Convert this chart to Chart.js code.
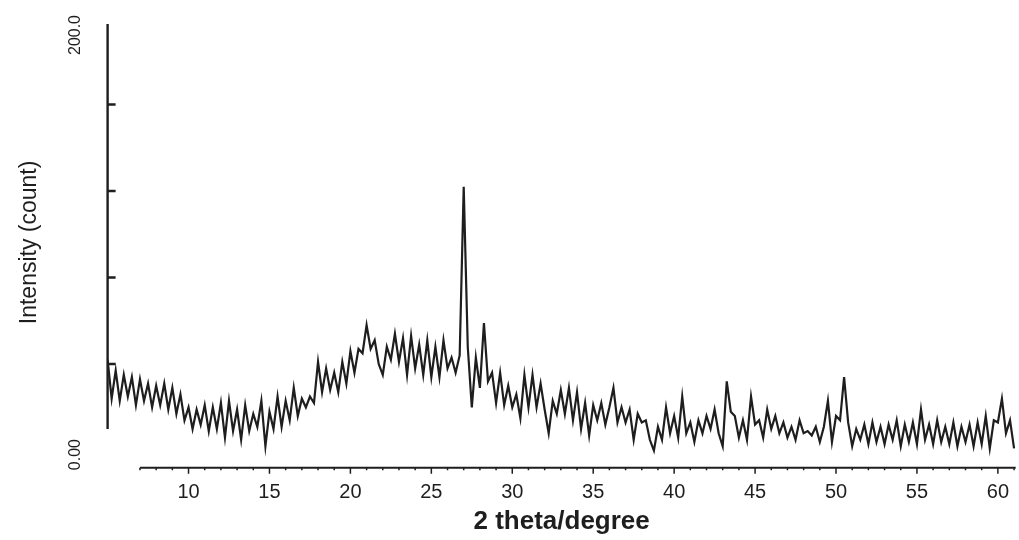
<!DOCTYPE html>
<html>
<head>
<meta charset="utf-8">
<script src="https://cdn.jsdelivr.net/npm/chart.js@4.4.1/dist/chart.umd.min.js"></script>
<style>
  html, body { margin: 0; padding: 0; background: #fff; }
  #wrap { width: 1019px; height: 540px; }
</style>
</head>
<body>
<div id="wrap"><canvas id="xrd"></canvas></div>
<script>
// 2 theta (degree) of each sample
const twoTheta = [
  5.00, 5.25, 5.50, 5.75, 6.00, 6.25, 6.50, 6.75, 7.00, 7.25, 7.50, 7.75, 8.00, 8.25, 8.50, 8.75, 9.00, 9.25, 9.50, 9.75,
  10.00, 10.25, 10.50, 10.75, 11.00, 11.25, 11.50, 11.75, 12.00, 12.25, 12.50, 12.75, 13.00, 13.25, 13.50, 13.75, 14.00, 14.25, 14.50, 14.75,
  15.00, 15.25, 15.50, 15.75, 16.00, 16.25, 16.50, 16.75, 17.00, 17.25, 17.50, 17.75, 18.00, 18.25, 18.50, 18.75, 19.00, 19.25, 19.50, 19.75,
  20.00, 20.25, 20.50, 20.75, 21.00, 21.25, 21.50, 21.75, 22.00, 22.25, 22.50, 22.75, 23.00, 23.25, 23.50, 23.75, 24.00, 24.25, 24.50, 24.75,
  25.00, 25.25, 25.50, 25.75, 26.00, 26.25, 26.50, 26.75, 27.00, 27.25, 27.50, 27.75, 28.00, 28.25, 28.50, 28.75, 29.00, 29.25, 29.50, 29.75,
  30.00, 30.25, 30.50, 30.75, 31.00, 31.25, 31.50, 31.75, 32.00, 32.25, 32.50, 32.75, 33.00, 33.25, 33.50, 33.75, 34.00, 34.25, 34.50, 34.75,
  35.00, 35.25, 35.50, 35.75, 36.00, 36.25, 36.50, 36.75, 37.00, 37.25, 37.50, 37.75, 38.00, 38.25, 38.50, 38.75, 39.00, 39.25, 39.50, 39.75,
  40.00, 40.25, 40.50, 40.75, 41.00, 41.25, 41.50, 41.75, 42.00, 42.25, 42.50, 42.75, 43.00, 43.25, 43.50, 43.75, 44.00, 44.25, 44.50, 44.75,
  45.00, 45.25, 45.50, 45.75, 46.00, 46.25, 46.50, 46.75, 47.00, 47.25, 47.50, 47.75, 48.00, 48.25, 48.50, 48.75, 49.00, 49.25, 49.50, 49.75,
  50.00, 50.25, 50.50, 50.75, 51.00, 51.25, 51.50, 51.75, 52.00, 52.25, 52.50, 52.75, 53.00, 53.25, 53.50, 53.75, 54.00, 54.25, 54.50, 54.75,
  55.00, 55.25, 55.50, 55.75, 56.00, 56.25, 56.50, 56.75, 57.00, 57.25, 57.50, 57.75, 58.00, 58.25, 58.50, 58.75, 59.00, 59.25, 59.50, 59.75,
  60.00, 60.25, 60.50, 60.75, 61.00
];

// intensity (count)
const intensity = [
  42, 24, 37, 23, 35, 25, 34, 21, 33, 23, 31, 20, 30, 21, 31, 19, 29, 17, 26, 14,
  20, 10, 19, 12, 21, 9, 20, 10, 22, 6, 23, 9, 19, 5, 21, 9, 17, 11, 23, 2,
  18, 10, 25, 11, 23, 14, 29, 16, 24, 20, 25, 22, 41, 27, 38, 28, 36, 27, 41, 31,
  46, 36, 47, 45, 58, 47, 51, 40, 35, 48, 42, 54, 41, 52, 35, 53, 38, 49, 35, 51,
  34, 48, 34, 51, 38, 43, 36, 44, 122, 48, 20, 43, 29, 59, 32, 36, 22, 36, 21, 30,
  20, 26, 15, 35, 20, 35, 20, 31, 19, 8, 23, 17, 28, 17, 29, 14, 27, 10, 22, 7,
  21, 14, 22, 12, 20, 29, 13, 20, 13, 19, 5, 17, 13, 14, 5, 0, 11, 5, 20, 8,
  16, 6, 25, 8, 13, 4, 14, 8, 16, 10, 19, 8, 2, 32, 18, 16, 6, 14, 5, 25,
  12, 14, 6, 19, 10, 16, 8, 13, 6, 11, 5, 14, 8, 9, 7, 11, 4, 11, 23, 4,
  16, 14, 34, 13, 2, 10, 5, 12, 3, 13, 4, 11, 3, 12, 5, 14, 2, 12, 4, 13,
  3, 19, 5, 12, 3, 14, 4, 11, 3, 13, 2, 11, 4, 12, 2, 13, 3, 16, 1, 14,
  13, 24, 8, 14, 1
];

const xTickValues = [10, 15, 20, 25, 30, 35, 40, 45, 50, 55, 60];
const yTickMarks = [40, 80, 120, 160];
const yLabelValues = [0, 200];
const yLabels = ['0.00', '200.0'];

const FONT = '"Liberation Sans", Arial, Helvetica, sans-serif';
const INK = '#1e1e1e';

// axes drawn by hand to mimic the scanned plot (inward y ticks, detached x axis)
const xrdAxes = {
  id: 'xrdAxes',
  afterDraw(chart) {
    const { ctx, scales: { x, y } } = chart;
    const x0 = x.getPixelForValue(5);
    ctx.save();
    ctx.strokeStyle = INK;
    ctx.fillStyle = INK;

    // y axis line + inward tick marks
    ctx.lineWidth = 2.4;
    ctx.beginPath();
    ctx.moveTo(x0, y.getPixelForValue(y.max) + 6);
    ctx.lineTo(x0, y.getPixelForValue(10));
    yTickMarks.forEach(v => {
      const py = y.getPixelForValue(v);
      ctx.moveTo(x0, py);
      ctx.lineTo(x0 + 8, py);
    });
    ctx.stroke();

    // x axis line below the plot
    const ay = y.getPixelForValue(y.min) + 1;
    ctx.lineWidth = 2;
    ctx.beginPath();
    ctx.moveTo(x.getPixelForValue(7), ay);
    ctx.lineTo(x.getPixelForValue(x.max), ay);
    ctx.stroke();
    ctx.lineWidth = 1.5;
    ctx.beginPath();
    for (let d = 7; d <= 61; d++) {
      const px = x.getPixelForValue(d);
      const len = d % 5 === 0 ? 6 : 2.5;
      ctx.moveTo(px, ay);
      ctx.lineTo(px, ay + len);
    }
    ctx.stroke();

    // rotated y tick labels
    ctx.font = '16px ' + FONT;
    ctx.textAlign = 'center';
    ctx.textBaseline = 'middle';
    yLabelValues.forEach((v, i) => {
      const py = y.getPixelForValue(v) + (v === y.max ? 17 : 4);
      ctx.save();
      ctx.translate(x0 - 32, py);
      ctx.rotate(-Math.PI / 2);
      ctx.fillText(yLabels[i], 0, 0);
      ctx.restore();
    });
    ctx.restore();
  }
};

new Chart(document.getElementById('xrd'), {
  type: 'line',
  data: {
    datasets: [{
      data: twoTheta.map((t, i) => ({ x: t, y: intensity[i] })),
      borderColor: INK,
      borderWidth: 2.2,
      pointRadius: 0,
      tension: 0,
      fill: false
    }]
  },
  options: {
    responsive: true,
    maintainAspectRatio: false,
    animation: false,
    layout: { padding: { left: 6, right: 0, top: 18, bottom: 3 } },
    plugins: { legend: { display: false }, tooltip: { enabled: false } },
    scales: {
      x: {
        type: 'linear',
        min: 5,
        max: 61.1,
        afterBuildTicks: s => { s.ticks = xTickValues.map(v => ({ value: v })); },
        grid: { display: false, drawTicks: false },
        border: { display: false },
        ticks: {
          color: INK,
          padding: 10,
          maxRotation: 0,
          font: { family: FONT, size: 20, lineHeight: 1.6 }
        },
        title: {
          display: true,
          text: '2 theta/degree',
          color: INK,
          padding: { top: -13, bottom: 0 },
          font: { family: FONT, size: 26, weight: 'bold', lineHeight: 1.2 }
        }
      },
      y: {
        min: -7.5,
        max: 200,
        grid: { display: false, drawTicks: false },
        border: { display: false },
        ticks: { display: false },
        title: {
          display: true,
          text: 'Intensity (count)',
          color: INK,
          padding: { top: 10, bottom: 64 },
          font: { family: FONT, size: 23, lineHeight: 1.2 }
        }
      }
    }
  },
  plugins: [xrdAxes]
});
</script>
</body>
</html>
